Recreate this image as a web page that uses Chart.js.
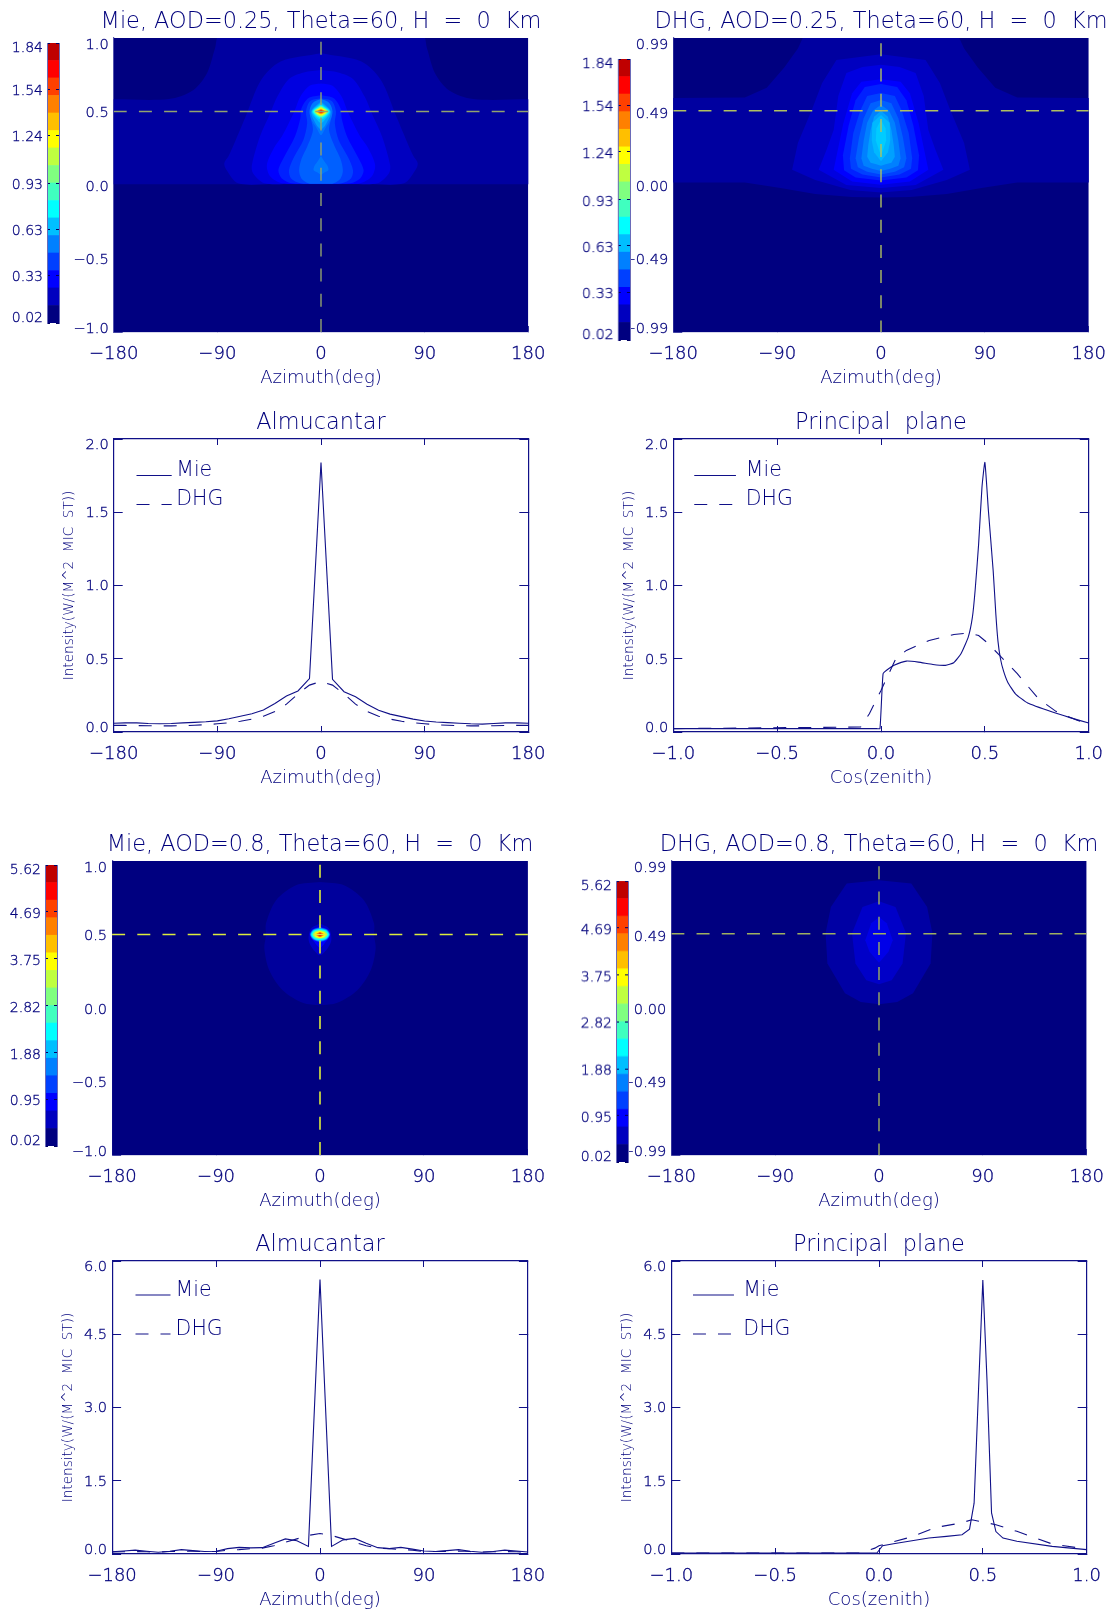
<!DOCTYPE html>
<html><head><meta charset="utf-8">
<script src="https://cdn.jsdelivr.net/npm/chart.js@4"></script>
<style>
html,body{margin:0;padding:0;background:#fff;overflow:hidden}
#page{position:relative;width:1111px;height:1612px;overflow:hidden;background:#fff}
canvas{position:absolute}
</style></head><body><div id="page"></div>
<script>
// ---------- tick labels ----------
const azimuthTicks=[-180,-90,0,90,180];
const azimuthLabels=['−180','−90','0','90','180'];
const cosTicks=[-1,-0.5,0,0.5,1];
const cosLabels=['−1.0','−0.5','0.0','0.5','1.0'];
const dhgCosTicks=[-0.99,-0.49,0,0.49,0.99];
const dhgCosLabels=['−0.99','−0.49','0.00','0.49','0.99'];
const int025Ticks=[0,0.5,1,1.5,2];
const int025Labels=['0.0','0.5','1.0','1.5','2.0'];
const int080Ticks=[0,1.5,3,4.5,6];
const int080Labels=['0.0','1.5','3.0','4.5','6.0'];
const cb025Ticks=[0.02,0.33,0.63,0.93,1.24,1.54,1.84];
const cb080Ticks=[0.02,0.95,1.88,2.82,3.75,4.69,5.62];
const cb025Edges=[0.02,0.134,0.248,0.361,0.475,0.589,0.703,0.816,0.93,1.044,1.158,1.271,1.385,1.499,1.613,1.726,1.84];
const cb080Edges=[0.02,0.37,0.72,1.07,1.42,1.77,2.12,2.47,2.82,3.17,3.52,3.87,4.22,4.57,4.92,5.27,5.62];
const cbColors=['#000080','#0000bf','#0000ff','#0040ff','#0080ff','#00bfff','#00ffff','#40ffbf','#80ff80','#bfff40','#ffff00','#ffbf00','#ff8000','#ff4000','#ff0000','#bf0000'];

// ---------- almucantar / principal plane curves ----------
const almAz=[-180,-170,-160,-150,-140,-130,-120,-110,-100,-90,-80,-70,-60,-50,-40,-30,-20,-10,0,10,20,30,40,50,60,70,80,90,100,110,120,130,140,150,160,170,180];
const almMie025=[0.06,0.062,0.062,0.058,0.056,0.058,0.062,0.066,0.07,0.076,0.09,0.108,0.125,0.15,0.195,0.245,0.28,0.365,1.84,0.36,0.275,0.24,0.19,0.148,0.122,0.105,0.088,0.075,0.068,0.064,0.06,0.056,0.054,0.058,0.062,0.062,0.06];
const almDhg025=[0.045,0.045,0.044,0.043,0.042,0.042,0.043,0.046,0.05,0.056,0.063,0.073,0.088,0.108,0.14,0.19,0.26,0.32,0.345,0.32,0.26,0.19,0.14,0.108,0.088,0.073,0.063,0.056,0.05,0.046,0.043,0.042,0.042,0.043,0.044,0.045,0.045];
const almMie080=[0.045,0.06,0.08,0.055,0.035,0.055,0.09,0.07,0.05,0.055,0.11,0.135,0.125,0.13,0.22,0.31,0.27,0.155,5.62,0.155,0.29,0.32,0.22,0.13,0.11,0.135,0.1,0.06,0.05,0.07,0.09,0.055,0.035,0.05,0.08,0.06,0.04];
const almDhg080=[0.04,0.045,0.05,0.045,0.04,0.05,0.06,0.055,0.05,0.05,0.08,0.09,0.11,0.12,0.17,0.24,0.31,0.38,0.42,0.38,0.31,0.24,0.17,0.12,0.11,0.09,0.08,0.05,0.05,0.055,0.06,0.05,0.04,0.045,0.05,0.045,0.04];

const ppMie025X=[-1,-0.02,-0.005,0.01,0.03,0.063,0.122,0.18,0.25,0.31,0.35,0.385,0.42,0.44,0.453,0.47,0.486,0.5,0.517,0.54,0.553,0.563,0.575,0.59,0.61,0.647,0.706,0.825,0.91,1];
const ppMie025Y=[0.023,0.023,0.023,0.398,0.425,0.455,0.484,0.477,0.461,0.455,0.473,0.534,0.648,0.784,0.966,1.284,1.67,1.84,1.51,1.1,0.8,0.62,0.5,0.415,0.34,0.261,0.198,0.136,0.098,0.061];
const ppDhg025X=[-1,-0.098,-0.056,0,0.071,0.122,0.232,0.351,0.419,0.47,0.512,0.571,0.656,0.758,0.842,0.944,1];
const ppDhg025Y=[0.023,0.034,0.125,0.284,0.5,0.557,0.625,0.666,0.675,0.659,0.609,0.523,0.398,0.227,0.141,0.08,0.057];
const ppMie080X=[-1,-0.01,0.017,0.07,0.24,0.325,0.4,0.436,0.458,0.478,0.5,0.52,0.542,0.563,0.597,0.664,0.834,1];
const ppMie080Y=[0.02,0.02,0.17,0.21,0.327,0.36,0.395,0.51,1.04,3.22,5.61,3.57,0.84,0.46,0.327,0.26,0.157,0.09];
const ppDhg080X=[-1,-0.09,-0.02,0,0.156,0.275,0.393,0.447,0.563,0.664,0.834,1];
const ppDhg080Y=[0.02,0.02,0.12,0.17,0.35,0.545,0.634,0.7,0.6,0.464,0.205,0.1];

// ---------- filled contours: right half of each level, [azimuth, cos(zenith)] ----------
const plotFullMie=[[0,1],[180,1],[180,-1],[0,-1]];
const mie025Colors=['#000080','#0000a0','#0000c0','#0000e0','#0000ff','#0020ff','#0040ff','#0060ff','#0078ff','#0078ff','#009cff','#00c0ff','#00e0ff','#00ffff','#40ffbf','#80ff80','#bfff40','#ffff00','#ffbf00','#ff8000','#ff4000','#ff0000','#bf0000'];
const mie025Shapes=[
 plotFullMie,
 [[0,1.02],[88,1.02],[92,0.93],[99,0.76],[111,0.645],[132,0.585],[180,0.583],[181,0.583],[181,0.005],[180,0.005],[0,0.005]],
 [[0,0.896],[35,0.84],[52,0.714],[65.5,0.465],[80,0.2],[84,0.148],[82,0.102],[72,0.012],[40,0.008],[0,0.008]],
 [[0,0.782],[15,0.765],[28,0.72],[38,0.6],[44,0.49],[53,0.33],[60,0.136],[59,0.08],[49,0.012],[25,0.008],[0,0.008]],
 [[0,0.69],[10,0.675],[18,0.6],[22.6,0.51],[28,0.42],[34,0.33],[41,0.25],[47,0.136],[44,0.057],[34,0.012],[15,0.008],[0,0.008]],
 [[0,0.61],[11,0.59],[17,0.52],[18,0.45],[22.6,0.33],[32.7,0.18],[37,0.1],[34,0.045],[25.5,0.012],[10,0.008],[0,0.008]],
 [[0,0.59],[9.5,0.57],[13,0.5],[12,0.42],[15.3,0.306],[23.4,0.19],[27.8,0.1],[26,0.045],[18,0.012],[8,0.008],[0,0.008]],
 [[0,0.578],[8,0.545],[9.5,0.48],[7,0.374],[12,0.26],[16.8,0.18],[19,0.1],[17,0.045],[11,0.012],[5,0.008],[0,0.008]],
 [[0,0.197],[3,0.16],[6,0.125],[6.3,0.1],[3,0.085],[0,0.07]],
 [[0,0.585],[7,0.56],[10,0.5],[8,0.44],[4,0.39],[0,0.34]],
 [[0,0.57],[8.5,0.5],[4,0.41],[0,0.38]],
 [[0,0.56],[8,0.5],[3,0.44],[0,0.42]],
 [[0,0.55],[7.5,0.5],[0,0.445]],
 [[0,0.545],[7,0.5],[0,0.455]],
 [[0,0.54],[6.4,0.5],[0,0.46]],
 [[0,0.535],[5.8,0.5],[0,0.465]],
 [[0,0.53],[5.2,0.5],[0,0.47]],
 [[0,0.525],[4.6,0.5],[0,0.475]],
 [[0,0.52],[3.9,0.5],[0,0.48]],
 [[0,0.515],[3.2,0.5],[0,0.485]],
 [[0,0.51],[2.5,0.5],[0,0.49]],
 [[0,0.507],[1.8,0.5],[0,0.493]],
 [[0,0.503],[1,0.5],[0,0.497]]
];
const dhg025Colors=['#000080','#0000a0','#0000c0','#0000e0','#0000ff','#0020ff','#0040ff','#0060ff','#0080ff','#00a0ff','#00b8ff','#00ccff'];
const dhg025Shapes=[
 plotFullMie,
 [[0,1.02],[66,1.02],[72,0.92],[84,0.79],[99,0.655],[118,0.59],[181,0.586],[181,0.016],[118,0.016],[87,-0.02],[57,-0.06],[25,-0.08],[0,-0.085]],
 [[0,0.88],[38.6,0.842],[51,0.687],[60,0.505],[72,0.283],[77,0.102],[57,0.034],[26.5,-0.033],[0,-0.051]],
 [[0,0.81],[16,0.795],[30,0.755],[37,0.6],[41,0.37],[47,0.24],[54,0.102],[30,0],[0,-0.02]],
 [[0,0.712],[17,0.696],[25,0.618],[32.6,0.416],[41,0.102],[25,0.023],[0,0.001]],
 [[0,0.68],[14,0.66],[22,0.57],[28,0.4],[33,0.2],[32,0.1],[22,0.05],[0,0.03]],
 [[0,0.62],[12,0.6],[18,0.5],[24,0.35],[27,0.18],[26,0.11],[16,0.07],[0,0.05]],
 [[0,0.573],[9,0.55],[15,0.45],[19,0.32],[22,0.18],[20,0.12],[12,0.09],[0,0.07]],
 [[0,0.54],[7,0.5],[12,0.42],[15,0.3],[17,0.18],[15,0.13],[8,0.11],[0,0.095]],
 [[0,0.5],[6,0.46],[9,0.37],[11,0.27],[12,0.19],[9,0.15],[4,0.14],[0,0.13]],
 [[0,0.472],[7.5,0.42],[8,0.3],[6,0.22],[0,0.16]],
 [[0,0.44],[4,0.38],[4.5,0.3],[2,0.24],[0,0.2]]
];
const mie080Colors=['#000080','#00009c','#0000c8','#0000ff','#0040ff','#0080ff','#00c0ff','#00ffff','#80ff80','#ffff00','#ff8000','#ff0000','#bf0000'];
const mie080Shapes=[
 plotFullMie,
 [[0,0.857],[20.8,0.835],[38,0.733],[46.8,0.574],[46.8,0.495],[48.2,0.405],[43.9,0.257],[32.3,0.12],[15,0.035],[0,0.02]],
 [[0,0.574],[7.8,0.54],[9.8,0.461],[6,0.4],[0,0.359]],
 [[0,0.555],[6.3,0.535],[8.9,0.5],[5,0.45],[0,0.41]],
 [[0,0.55],[6,0.535],[8.6,0.5],[6,0.465],[0,0.45]],
 [[0,0.547],[5.8,0.532],[8.3,0.5],[5.8,0.468],[0,0.453]],
 [[0,0.543],[5.5,0.53],[8,0.5],[5.5,0.47],[0,0.457]],
 [[0,0.538],[5.2,0.527],[7.5,0.5],[5.2,0.473],[0,0.462]],
 [[0,0.53],[4.5,0.522],[6.5,0.5],[4.5,0.478],[0,0.47]],
 [[0,0.524],[3.5,0.517],[5,0.5],[3.5,0.483],[0,0.476]],
 [[0,0.518],[3.5,0.5],[0,0.482]],
 [[0,0.512],[2.5,0.5],[0,0.488]],
 [[0,0.507],[1.5,0.5],[0,0.493]]
];
const dhg080Colors=['#000080','#0000a4','#0000c8','#0000e8'];
const dhg080Shapes=[
 plotFullMie,
 [[0,0.86],[28,0.838],[41.7,0.68],[46.3,0.503],[44.7,0.3],[29.5,0.099],[15.8,0.041],[0,0.025]],
 [[0,0.719],[14.3,0.68],[23.4,0.503],[20.4,0.3],[11,0.187],[0,0.16]],
 [[0,0.613],[6.7,0.57],[11.9,0.457],[8.2,0.378],[0,0.304]]
];
const crossAz=[-180,180];
const crossCos=[0.5,0.5];
const crossVertAz=[0,0];
const crossVertCos=[-1,1];

// ---------- text ----------
const FONT='"DejaVu Sans"';
const INK='#00007c';
const AXIS='#101088';
const tickStroke={textStrokeColor:INK,textStrokeWidth:0.3};

const pairs=(xs,ys)=>xs.map((x,i)=>({x,y:ys[i]}));
const mirror=h=>{
  const right=h.map(([x,y])=>({x,y}));
  const left=h.slice().reverse().filter(p=>p[0]!==0).map(([x,y])=>({x:-x,y}));
  const first=h[0];
  return right.concat(left,[{x:first[0],y:first[1]}]);
};

const tweakPlugin={
  id:'tweak',
  beforeDraw(chart){
    Object.values(chart.scales).forEach(s=>{
      const n=s.options.edgeNudge;
      if(!n) return;
      const items=s.getLabelItems();
      if(items._done||!items.length) return;
      items._done=true;
      items.forEach(it=>{it.options.translation[1]+=(s.options.allNudge||0);});
      items[0].options.translation[1]-=n;
      const top=s.options.edgeNudgeTop;
      items[items.length-1].options.translation[1]+=(top===undefined?n:top);
    });
  },
  afterDatasetsDraw(chart,args,o){
    if(!o||!o.entries) return;
    const {ctx,chartArea:a}=chart;
    ctx.save();
    o.entries.forEach(e=>{
      ctx.strokeStyle=AXIS;ctx.lineWidth=1.1;
      ctx.setLineDash(e.dash||[]);
      ctx.beginPath();ctx.moveTo(a.left+o.x0,a.top+e.lineY);ctx.lineTo(a.left+o.x1,a.top+e.lineY);ctx.stroke();
      ctx.setLineDash([]);
      ctx.fillStyle=INK;ctx.font='200 20.5px '+FONT;ctx.textBaseline='middle';ctx.textAlign='left';
      ctx.fillText(e.label,a.left+o.xt,a.top+e.textY);
    });
    ctx.restore();
  }
};

function mk(left,top,w,h){
  const c=document.createElement('canvas');
  c.width=w;c.height=h;c.style.left=left+'px';c.style.top=top+'px';c.style.width=w+'px';c.style.height=h+'px';
  document.getElementById('page').appendChild(c);
  return c;
}
function fixedTicks(vals){return axis=>{axis.ticks=vals.map(v=>({value:v}));};}

function panel(p){
  const plotW=p.right-p.left, plotH=p.bottom-p.top, cx=(p.left+p.right)/2;
  const HW=300, TOP=40, BOT=57, LW=p.lw||60;
  const c=mk(cx-HW,p.top-TOP,HW*2,TOP+plotH+BOT);
  const tickCol=p.heat?'#3a3aa0':AXIS, bord=p.heat?'#5c5cb0':AXIS;
  const tl=(len)=>({drawOnChartArea:false,drawTicks:true,tickLength:len,color:tickCol,lineWidth:1});
  const xScale={type:'linear',position:'bottom',min:p.xTicks[0],max:p.xTicks[p.xTicks.length-1],
    afterBuildTicks:fixedTicks(p.xTicks),afterFit:s=>{s.height=BOT;s.paddingLeft=0;s.paddingRight=0;},
    grid:tl(-6),border:{color:bord,width:1.2},
    ticks:{autoSkip:false,maxRotation:0,minRotation:0,padding:18,color:INK,...tickStroke,font:{family:FONT,size:18,weight:200},callback:(v,i)=>p.xLabels[i]},
    title:{display:true,text:p.xTitle,color:INK,padding:0,font:{family:FONT,size:18,weight:200}}};
  const yScale={type:'linear',position:'left',min:p.yTicks[0],max:p.yTicks[p.yTicks.length-1],edgeNudge:5,allNudge:p.heat?2:1.2,
    afterBuildTicks:fixedTicks(p.yTicks),afterFit:s=>{s.width=LW;s.paddingTop=0;s.paddingBottom=0;},
    grid:tl(-9),border:{color:bord,width:1.2},
    ticks:{autoSkip:false,padding:14,color:INK,...tickStroke,font:{family:FONT,size:14.6,weight:200},callback:(v,i)=>p.yLabels[i]}};
  if(p.yTitle) yScale.title={display:true,text:p.yTitle,color:INK,padding:0,font:{family:FONT,size:13.6,weight:200}};
  const scales={x:xScale,y:yScale};
  scales.y2={type:'linear',position:'right',min:yScale.min,max:yScale.max,afterBuildTicks:fixedTicks(p.yTicks),afterFit:s=>{s.width=LW;s.paddingTop=0;s.paddingBottom=0;},
    grid:p.heat?{display:false}:tl(-9),border:p.heat?{display:false}:{color:bord,width:1.2},ticks:{display:false}};
  if(!p.heat){
    scales.x2={type:'linear',position:'top',min:xScale.min,max:xScale.max,afterBuildTicks:fixedTicks(p.xTicks),afterFit:s=>{s.height=0;s.paddingLeft=0;s.paddingRight=0;},
      grid:tl(-6),border:{color:bord,width:1.2},ticks:{display:false}};
  }
  const pad=HW-plotW/2-LW;
  new Chart(c,{type:'scatter',data:{datasets:p.datasets},plugins:[tweakPlugin],options:{
    responsive:false,animation:false,events:[],devicePixelRatio:1,
    layout:{padding:{left:pad,right:pad,top:0,bottom:0}},
    scales,
    plugins:{
      legend:{display:false},tooltip:{enabled:false},
      title:{display:true,text:p.title,color:INK,align:'center',font:{family:FONT,size:22.4,weight:200,lineHeight:1.2},padding:{top:11,bottom:2.12}},
      tweak:p.legend||{}
    }
  }});
}

function heatDatasets(shapes,colors,tension,crossColor,crossWidth){
  const n=shapes.length+2, w=crossWidth||1.4;
  const ds=shapes.map((h,i)=>({label:'level '+i,data:mirror(h),showLine:true,fill:'shape',backgroundColor:colors[i],borderColor:colors[i],borderWidth:0,pointRadius:0,tension,order:n-i}));
  ds.push({label:'almucantar',data:pairs(crossAz,crossCos),showLine:true,fill:false,borderColor:crossColor,borderWidth:w,borderDash:[13,12.2],pointRadius:0,order:1});
  ds.push({label:'principal',data:pairs(crossVertAz,crossVertCos),showLine:true,fill:false,borderColor:crossColor,borderWidth:w,borderDash:[13,12.2],pointRadius:0,order:0});
  return ds;
}
function lineDatasets(mx,my,dx,dy,mieTension){
  return [
   {label:'Mie',data:pairs(mx,my),showLine:true,fill:false,borderColor:AXIS,borderWidth:1.1,pointRadius:0,tension:mieTension||0},
   {label:'DHG',data:pairs(dx,dy),showLine:true,fill:false,borderColor:AXIS,borderWidth:1.1,borderDash:[13,12],pointRadius:0,tension:0}
  ];
}
function colorbar(b,edges,ticks){
  const LW=45,R=2,V=8;
  const c=mk(b.left-LW,b.top-V,LW+(b.right-b.left)+R,(b.bottom-b.top)+2*V);
  const ds=cbColors.map((col,i)=>({label:'band '+i,data:[[edges[i],edges[i+1]]],backgroundColor:col,borderWidth:0,barPercentage:1,categoryPercentage:1,grouped:false}));
  const yfit=(w)=>s=>{s.width=w;s.paddingTop=0;s.paddingBottom=0;};
  new Chart(c,{type:'bar',data:{labels:['scale'],datasets:ds},plugins:[tweakPlugin],options:{
    responsive:false,animation:false,events:[],devicePixelRatio:1,
    layout:{padding:{left:0,right:R,top:V,bottom:V}},
    plugins:{legend:{display:false},tooltip:{enabled:false},title:{display:false}},
    scales:{
      x:{display:false,offset:true},
      y:{type:'linear',position:'left',min:edges[0],max:edges[16],edgeNudge:7,edgeNudgeTop:3,allNudge:2.5,
        afterBuildTicks:fixedTicks(ticks),afterFit:yfit(LW),
        grid:{drawOnChartArea:false,drawTicks:true,tickLength:-3,color:'#000060',z:2},border:{color:'#6a6ab8',width:1,z:2},
        ticks:{autoSkip:false,padding:7,color:INK,...tickStroke,font:{family:FONT,size:14,weight:200},callback:v=>v.toFixed(2)}},
      y2:{type:'linear',position:'right',min:edges[0],max:edges[16],afterBuildTicks:fixedTicks(ticks),afterFit:yfit(0),
        grid:{drawOnChartArea:false,drawTicks:true,tickLength:-3,color:'#000060',z:2},border:{color:'#6a6ab8',width:1,z:2},ticks:{display:false}}
    }
  }});
}

const Y_TITLE='Intensity(W/(M^2  MIC  ST))';
const leg=(x0,x1,xt,l1,t1,l2,t2)=>({x0,x1,xt,entries:[{label:'Mie',lineY:l1,textY:t1},{label:'DHG',lineY:l2,textY:t2,dash:[13,12]}]});

panel({heat:true,left:114,right:528.6,top:38,bottom:332,title:'Mie, AOD=0.25, Theta=60, H  =  0  Km',xTicks:azimuthTicks,xLabels:azimuthLabels,yTicks:cosTicks,yLabels:cosLabels,xTitle:'Azimuth(deg)',datasets:heatDatasets(mie025Shapes,mie025Colors,0.3,'#93a36e')});
panel({heat:true,left:673,right:1088.5,top:38,bottom:332,title:'DHG, AOD=0.25, Theta=60, H  =  0  Km',xTicks:azimuthTicks,xLabels:azimuthLabels,yTicks:dhgCosTicks,yLabels:dhgCosLabels,xTitle:'Azimuth(deg)',datasets:heatDatasets(dhg025Shapes,dhg025Colors,0,'#b0c060')});
panel({left:114,right:528.6,top:438.5,bottom:731.5,lw:52,title:'Almucantar',xTicks:azimuthTicks,xLabels:azimuthLabels,yTicks:int025Ticks,yLabels:int025Labels,xTitle:'Azimuth(deg)',yTitle:Y_TITLE,datasets:lineDatasets(almAz,almMie025,almAz,almDhg025),legend:leg(22.8,58,62.5,36.5,31.5,65.5,60.5)});
panel({left:673,right:1088.5,top:438.5,bottom:731.5,lw:52,title:'Principal  plane',xTicks:cosTicks,xLabels:cosLabels,yTicks:int025Ticks,yLabels:int025Labels,xTitle:'Cos(zenith)',yTitle:Y_TITLE,datasets:lineDatasets(ppMie025X,ppMie025Y,ppDhg025X,ppDhg025Y,0.15),legend:leg(21,62.7,72.5,36.5,31.5,65.5,60.5)});
panel({heat:true,left:111.6,right:527.4,top:860.7,bottom:1155,title:'Mie, AOD=0.8, Theta=60, H  =  0  Km',xTicks:azimuthTicks,xLabels:azimuthLabels,yTicks:cosTicks,yLabels:cosLabels,xTitle:'Azimuth(deg)',datasets:heatDatasets(mie080Shapes,mie080Colors,0.3,'#dcec3c',1.6)});
panel({heat:true,left:671.4,right:1086.7,top:860.7,bottom:1155,title:'DHG, AOD=0.8, Theta=60, H  =  0  Km',xTicks:azimuthTicks,xLabels:azimuthLabels,yTicks:dhgCosTicks,yLabels:dhgCosLabels,xTitle:'Azimuth(deg)',datasets:heatDatasets(dhg080Shapes,dhg080Colors,0,'#9fb060')});
panel({left:111.6,right:527.4,top:1261,bottom:1554.3,lw:52,title:'Almucantar',xTicks:azimuthTicks,xLabels:azimuthLabels,yTicks:int080Ticks,yLabels:int080Labels,xTitle:'Azimuth(deg)',yTitle:Y_TITLE,datasets:lineDatasets(almAz,almMie080,almAz,almDhg080),legend:leg(23.4,58.4,63.5,34,30,73,69)});
panel({left:671.4,right:1086.7,top:1261,bottom:1554.3,lw:52,title:'Principal  plane',xTicks:cosTicks,xLabels:cosLabels,yTicks:int080Ticks,yLabels:int080Labels,xTitle:'Cos(zenith)',yTitle:Y_TITLE,datasets:lineDatasets(ppMie080X,ppMie080Y,ppDhg080X,ppDhg080Y),legend:leg(21.6,62.6,72,34,30,73,69)});

colorbar({left:46.7,right:59,top:42.7,bottom:323},cb025Edges,cb025Ticks);
colorbar({left:617,right:629.6,top:58.7,bottom:340},cb025Edges,cb025Ticks);
colorbar({left:45,right:57,top:865,bottom:1146},cb080Edges,cb080Ticks);
colorbar({left:615.5,right:627.8,top:881.3,bottom:1162},cb080Edges,cb080Ticks);
</script></body></html>
